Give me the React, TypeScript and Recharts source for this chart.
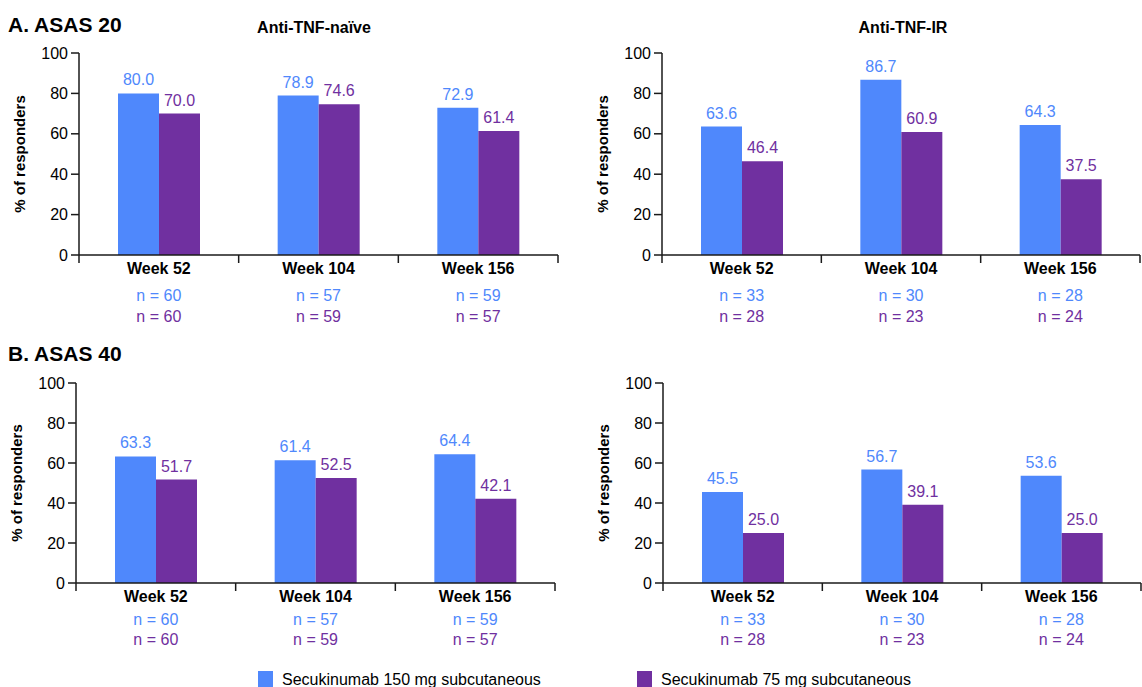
import { BarChart, Bar, XAxis, YAxis, LabelList } from 'recharts';

const weeks = ['Week 52', 'Week 104', 'Week 156'];

// % of responders, secukinumab 150 mg / 75 mg
const asas20NaiveHigh = [80.0, 78.9, 72.9];
const asas20NaiveLow = [70.0, 74.6, 61.4];
const asas20IrHigh = [63.6, 86.7, 64.3];
const asas20IrLow = [46.4, 60.9, 37.5];
const asas40NaiveHigh = [63.3, 61.4, 64.4];
const asas40NaiveLow = [51.7, 52.5, 42.1];
const asas40IrHigh = [45.5, 56.7, 53.6];
const asas40IrLow = [25.0, 39.1, 25.0];

// patients per arm
const naiveN150 = [60, 57, 59];
const naiveN75 = [60, 59, 57];
const irN150 = [33, 30, 28];
const irN75 = [28, 23, 24];

const yTicks = [0, 20, 40, 60, 80, 100];

const BLUE = '#4f88fc';
const PURPLE = '#7030a0';
const AXIS = '#1a1a1a';
const FONT = '"Liberation Sans", Arial, sans-serif';

const Y_AXIS_W = 79;
const TOP_PAD = 10;
const X_AXIS_H = 75;

interface WeekTickProps {
  x?: number;
  y?: number;
  index?: number;
  payload?: { value: string; index: number };
  half: number;
  n150: number[];
  n75: number[];
  rows: [number, number, number];
}

function WeekTick({ x = 0, y = 0, payload, half, n150, n75, rows }: WeekTickProps) {
  const i = payload ? payload.index : 0;
  return (
    <g>
      <line x1={x - half} y1={y} x2={x - half} y2={y + 8} stroke={AXIS} strokeWidth={1.5} />
      {i === weeks.length - 1 && (
        <line x1={x + half} y1={y} x2={x + half} y2={y + 8} stroke={AXIS} strokeWidth={1.5} />
      )}
      <text x={x} y={y + rows[0]} textAnchor="middle" fontSize={16} fontWeight="bold" fill="#000">
        {payload?.value}
      </text>
      <text x={x} y={y + rows[1]} textAnchor="middle" fontSize={16} fill={BLUE}>
        n = {n150[i]}
      </text>
      <text x={x} y={y + rows[2]} textAnchor="middle" fontSize={16} fill={PURPLE}>
        n = {n75[i]}
      </text>
    </g>
  );
}

interface PanelProps {
  axisX: number;
  plotTop: number;
  plotBottom: number;
  plotRight: number;
  high: number[];
  low: number[];
  n150: number[];
  n75: number[];
  rows: [number, number, number];
}

function Panel({ axisX, plotTop, plotBottom, plotRight, high, low, n150, n75, rows }: PanelProps) {
  const data = weeks.map((week, i) => ({ week, high: high[i], low: low[i] }));
  const plotW = plotRight - axisX;
  const plotH = plotBottom - plotTop;
  const width = Y_AXIS_W + plotW + 4;
  const height = TOP_PAD + plotH + X_AXIS_H;
  const half = plotW / weeks.length / 2;
  const fmt = (v: any) => Number(v).toFixed(1);

  return (
    <div style={{ position: 'absolute', left: axisX - Y_AXIS_W, top: plotTop - TOP_PAD }}>
      <BarChart
        width={width}
        height={height}
        data={data}
        margin={{ top: TOP_PAD, right: 4, left: 0, bottom: 0 }}
        barSize={41}
        barGap={0}
      >
        <XAxis
          dataKey="week"
          interval={0}
          height={X_AXIS_H}
          tickSize={0}
          tickMargin={0}
          tickLine={false}
          axisLine={{ stroke: AXIS, strokeWidth: 1.5 }}
          tick={(p: any) => <WeekTick {...p} half={half} n150={n150} n75={n75} rows={rows} />}
        />
        <YAxis
          width={Y_AXIS_W}
          domain={[0, 100]}
          ticks={yTicks}
          interval={0}
          tickSize={8}
          tickMargin={3}
          axisLine={{ stroke: AXIS, strokeWidth: 1.5 }}
          tickLine={{ stroke: AXIS, strokeWidth: 1.5 }}
          tick={{ fill: '#000', fontSize: 16 }}
          label={{
            value: '% of responders',
            angle: -90,
            position: 'center',
            dx: -20,
            fill: '#000',
            fontSize: 15,
            fontWeight: 'bold',
          }}
        />
        <Bar dataKey="high" fill={BLUE} isAnimationActive={false}>
          <LabelList dataKey="high" position="top" offset={8} fill={BLUE} fontSize={16} formatter={fmt} />
        </Bar>
        <Bar dataKey="low" fill={PURPLE} isAnimationActive={false}>
          <LabelList dataKey="low" position="top" offset={8} fill={PURPLE} fontSize={16} formatter={fmt} />
        </Bar>
      </BarChart>
    </div>
  );
}

const rowsA: [number, number, number] = [19, 46, 67];
const rowsB: [number, number, number] = [19, 42, 62];

export default function App() {
  return (
    <div
      style={{
        position: 'absolute',
        left: 0,
        top: 0,
        width: 1142,
        height: 687,
        background: '#fff',
        overflow: 'hidden',
        fontFamily: FONT,
        color: '#000',
      }}
    >
      <div style={{ position: 'absolute', left: 8, top: 14, fontSize: 21, fontWeight: 'bold', lineHeight: 1 }}>
        A. ASAS 20
      </div>
      <div
        style={{ position: 'absolute', left: 214, top: 20, width: 200, textAlign: 'center', fontSize: 16, fontWeight: 'bold', lineHeight: 1 }}
      >
        Anti-TNF-naïve
      </div>
      <div
        style={{ position: 'absolute', left: 803, top: 20, width: 200, textAlign: 'center', fontSize: 16, fontWeight: 'bold', lineHeight: 1 }}
      >
        Anti-TNF-IR
      </div>
      <div style={{ position: 'absolute', left: 8, top: 343, fontSize: 21, fontWeight: 'bold', lineHeight: 1 }}>
        B. ASAS 40
      </div>

      <Panel axisX={79} plotTop={53} plotBottom={255} plotRight={558} high={asas20NaiveHigh} low={asas20NaiveLow} n150={naiveN150} n75={naiveN75} rows={rowsA} />
      <Panel axisX={662} plotTop={53} plotBottom={255} plotRight={1140} high={asas20IrHigh} low={asas20IrLow} n150={irN150} n75={irN75} rows={rowsA} />
      <Panel axisX={76} plotTop={383} plotBottom={583} plotRight={555} high={asas40NaiveHigh} low={asas40NaiveLow} n150={naiveN150} n75={naiveN75} rows={rowsB} />
      <Panel axisX={663} plotTop={383} plotBottom={583} plotRight={1141} high={asas40IrHigh} low={asas40IrLow} n150={irN150} n75={irN75} rows={rowsB} />

      <div style={{ position: 'absolute', left: 258, top: 671, width: 15, height: 16, background: BLUE }} />
      <div style={{ position: 'absolute', left: 282, top: 671, fontSize: 16, lineHeight: '17px' }}>
        Secukinumab 150 mg subcutaneous
      </div>
      <div style={{ position: 'absolute', left: 637, top: 671, width: 15, height: 16, background: PURPLE }} />
      <div style={{ position: 'absolute', left: 661, top: 671, fontSize: 16, lineHeight: '17px' }}>
        Secukinumab 75 mg subcutaneous
      </div>
    </div>
  );
}
